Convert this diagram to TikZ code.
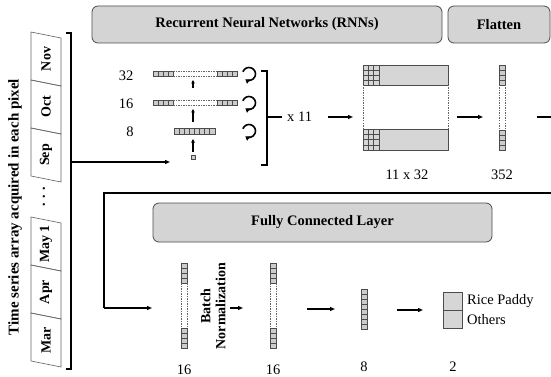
\documentclass[tikz,border=0pt]{standalone}
\usepackage{fontspec}
\setmainfont{Liberation Serif}
\usetikzlibrary{arrows.meta}
\newcommand{\vvec}[3]{%
  \foreach \k in {0,...,3}{%
    \draw[cell] (#1,#2+5*\k) rectangle ++(6,5);
    \draw[cell] (#1,#3-5*\k) rectangle ++(6,-5);}
  \draw[cellline] (#1,#2+20) -- (#1,#3-20) (#1+6,#2+20) -- (#1+6,#3-20);
}
\begin{document}
\begin{tikzpicture}[x=1pt,y=-1pt,
  banner/.style={draw=black!70, fill=black!17, rounded corners=6pt, line width=0.8pt, inner sep=0},
  cell/.style={draw=black!70, fill=black!20, line width=0.55pt},
  cellline/.style={draw=black!60, line width=0.5pt, dash pattern=on 1.5pt off 1pt},
  mat/.style={draw=black!70, fill=black!16, line width=0.6pt},
  gridl/.style={draw=black!70, line width=0.5pt},
  arr/.style={line width=1.2pt, -{Triangle[length=5pt,width=4pt]}},
  uarr/.style={line width=1.1pt, -{Triangle[length=3.5pt,width=3.5pt]}},
  carr/.style={line width=1.6pt, -{Triangle[length=4pt,width=5pt]}},
  conn/.style={line width=1.2pt},
  lbl/.style={font=\fontsize{14.5}{14.5}\selectfont, inner sep=0},
  blbl/.style={font=\fontsize{14.5}{14.5}\selectfont\bfseries},
  month/.style={font=\fontsize{14}{14}\selectfont\bfseries, rotate=90, inner sep=0},
  strip/.style={draw=black!60, line width=0.6pt},
  ]
\useasboundingbox (0,0) rectangle (551,377);

% banners
\node[banner, blbl, minimum width=350pt, minimum height=37pt] (rnn) at (267,24.5) {Recurrent Neural Networks (RNNs)};
\node[banner, blbl, minimum width=102pt, minimum height=37pt] (flat) at (499,24.5) {Flatten};
\node[banner, blbl, minimum width=339pt, minimum height=39pt] (fc) at (322.5,222.5) {Fully Connected Layer};

% title
\node[font=\fontsize{15}{15}\selectfont\bfseries, rotate=90, inner sep=0] (title) at (15,207) {Time series array acquired in each pixel};

% month strip
\foreach \a/\lab [count=\i] in {32/Nov,80/Oct,128/Sep,217/{May 1},265/Apr,313/Mar} {
  \draw[strip] (31,\a) -- (61,\a+6) -- (61,\a+54) -- (31,\a+48) -- cycle;
  \node[month] (m\i) at (46,\a+27) {\lab};
}
\node[month] (dots) at (44,197) {. . .};

% bracket and input
\draw[conn] (66,33) -- (71,33) -- (71,369) -- (66,369);
\coordinate (brk) at (71,162);
\coordinate (inp) at (170,162);
\draw[arr] (brk) -- (inp);

% RNN layers
\node[lbl] (l32) at (126,76) {32};
\node[lbl] (l16) at (126,104) {16};
\node[lbl] (l8) at (130,132) {8};
\foreach \yy in {74,103}{
  \foreach \k in {0,...,3}{
    \draw[cell] (153+5*\k,\yy-2.5) rectangle ++(5,5);
    \draw[cell] (217+5*\k,\yy-2.5) rectangle ++(5,5);}
  \draw[cellline] (173,\yy-2.5) -- (217,\yy-2.5) (173,\yy+2.5) -- (217,\yy+2.5);
}
\foreach \k in {0,...,7}{\draw[cell] (174+5.1*\k,128) rectangle ++(5.1,6);}
\node[cell, minimum size=4pt, inner sep=0] (x0) at (193,157) {};
\coordinate (u1a) at (193,152); \coordinate (u1b) at (193,139);
\coordinate (u2a) at (193,122); \coordinate (u2b) at (193,109);
\coordinate (u3a) at (193,88);  \coordinate (u3b) at (193,80);
\draw[uarr] (u1a) -- (u1b);
\draw[uarr] (u2a) -- (u2b);
\draw[uarr] (u3a) -- (u3b);
\foreach \yy in {74,103,131}{
  \draw[carr] (249,\yy) ++(-160:6.5) arc[start angle=-160,end angle=125,radius=6.5];
}
\draw[conn] (261,71) -- (267,71) -- (267,165) -- (261,165);
\coordinate (tick) at (267,117);
\node[lbl, anchor=west] (x11) at (287,117) {x 11};
\draw[conn] (tick) -- ++(15,0);

% matrix 11 x 32
\coordinate (a1s) at (328,117); \coordinate (a1e) at (353,117);
\draw[arr] (a1s) -- (a1e);
\foreach \ya/\yb in {65/85,129/150}{
  \draw[mat] (363,\ya) rectangle (448,\yb);
  \foreach \k in {1,2} \draw[gridl] (363+16/3*\k,\ya) -- (363+16/3*\k,\yb);
  \foreach \k in {1,2,3} \draw[gridl] (363,{\ya+(\yb-\ya)/4*\k}) -- (379,{\ya+(\yb-\ya)/4*\k});
  \draw[gridl] (379,\ya) -- (379,\yb);
}
\draw[cellline] (363,85) -- (363,129) (448,85) -- (448,129);
\node[lbl] (l1132) at (407,175) {11 x 32};

% flatten
\coordinate (a2s) at (457,117); \coordinate (a2e) at (483,117);
\draw[arr] (a2s) -- (a2e);
\vvec{499}{65}{150}
\node[lbl] (l352) at (502,175) {352};

% long connector
\coordinate (c0) at (537,117);
\coordinate (c1) at (104,193);
\coordinate (c2) at (152,308);
\draw[conn] (c0) -- (552,117) -- (552,193) -- (c1) -- (104,308);
\draw[arr] (104,308) -- (c2);

% fully connected
\vvec{181}{263}{348}
\node[lbl] (l16a) at (184,370) {16};
\node[font=\fontsize{14}{15}\selectfont\bfseries, rotate=90, align=center, inner sep=0] (bn) at (213,306) {Batch\\Normalization};
\coordinate (a3s) at (230,308); \coordinate (a3e) at (243,308);
\draw[arr] (a3s) -- (a3e);
\vvec{270}{263}{348}
\node[lbl] (l16b) at (273,370) {16};
\coordinate (a4s) at (307,309); \coordinate (a4e) at (335,309);
\draw[arr] (a4s) -- (a4e);
\foreach \k in {0,...,7}{\draw[cell] (361,289+5*\k) rectangle ++(6,5);}
\node[lbl] (l8b) at (364,367) {8};
\coordinate (a5s) at (397,310); \coordinate (a5e) at (423,310);
\draw[arr] (a5s) -- (a5e);
\draw[mat] (443,292) rectangle (462,310);
\draw[mat] (443,310) rectangle (462,328);
\node[lbl, anchor=west] (rice) at (467,301) {Rice Paddy};
\node[lbl, anchor=west] (oth) at (467,320) {Others};
\node[lbl] (l2) at (453,367) {2};
\end{tikzpicture}
\end{document}
